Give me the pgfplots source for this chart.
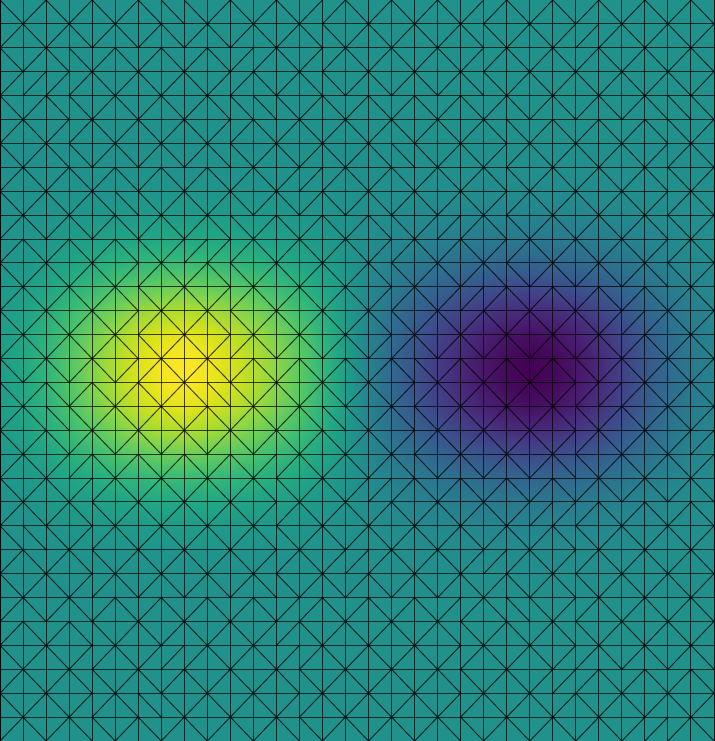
\documentclass[border=0pt]{standalone}
\usepackage{pgfplots}
\pgfplotsset{compat=1.18}
\definecolor{vmid}{rgb}{0.127568,0.566949,0.550556}
\begin{document}
\begin{tikzpicture}
\begin{axis}[
  scale only axis, width=7.14cm, height=7.41cm,
  xmin=0, xmax=31, ymin=0, ymax=31, y dir=reverse,
  axis on top,
  xtick={0,...,31}, ytick={0,...,31},
  xticklabels={}, yticklabels={},
  major tick length=0pt,
  grid=major,
  grid style={black, line width=0.28pt, opacity=0.72},
  axis line style={black, line width=0.28pt, opacity=0.72},
  axis background/.style={fill=vmid},
  colormap/viridis,
  point meta min=-1, point meta max=1,
]
\addplot[surf, shader=interp, mesh/cols=32, point meta=explicit] table[row sep=\\, x=x, y=y, meta=z] {
x y z\\
0 6 0\\1 6 0\\2 6 0\\3 6 0\\4 6 0\\5 6 0\\6 6 0\\7 6 0\\8 6 0\\9 6 0\\10 6 0\\11 6 0\\12 6 0\\13 6 0\\14 6 0\\15 6 0\\16 6 0\\17 6 0\\18 6 0\\19 6 0\\20 6 0\\21 6 0\\22 6 0\\23 6 0\\24 6 0\\25 6 0\\26 6 0\\27 6 0\\28 6 0\\29 6 0\\30 6 0\\31 6 0\\
0 7 0.002\\1 7 0.003\\2 7 0.005\\3 7 0.007\\4 7 0.009\\5 7 0.012\\6 7 0.013\\7 7 0.015\\8 7 0.015\\9 7 0.014\\10 7 0.013\\11 7 0.012\\12 7 0.010\\13 7 0.008\\14 7 0.005\\15 7 0.002\\16 7 -0.002\\17 7 -0.005\\18 7 -0.008\\19 7 -0.010\\20 7 -0.012\\21 7 -0.013\\22 7 -0.014\\23 7 -0.015\\24 7 -0.015\\25 7 -0.013\\26 7 -0.012\\27 7 -0.009\\28 7 -0.007\\29 7 -0.005\\30 7 -0.003\\31 7 -0.002\\
0 8 0.004\\1 8 0.008\\2 8 0.012\\3 8 0.018\\4 8 0.025\\5 8 0.031\\6 8 0.036\\7 8 0.039\\8 8 0.040\\9 8 0.038\\10 8 0.035\\11 8 0.031\\12 8 0.026\\13 8 0.020\\14 8 0.013\\15 8 0.005\\16 8 -0.005\\17 8 -0.013\\18 8 -0.020\\19 8 -0.026\\20 8 -0.031\\21 8 -0.035\\22 8 -0.038\\23 8 -0.040\\24 8 -0.039\\25 8 -0.036\\26 8 -0.031\\27 8 -0.025\\28 8 -0.018\\29 8 -0.012\\30 8 -0.008\\31 8 -0.004\\
0 9 0.010\\1 9 0.018\\2 9 0.029\\3 9 0.044\\4 9 0.059\\5 9 0.073\\6 9 0.085\\7 9 0.092\\8 9 0.095\\9 9 0.091\\10 9 0.084\\11 9 0.074\\12 9 0.062\\13 9 0.048\\14 9 0.031\\15 9 0.011\\16 9 -0.011\\17 9 -0.031\\18 9 -0.048\\19 9 -0.062\\20 9 -0.074\\21 9 -0.084\\22 9 -0.091\\23 9 -0.095\\24 9 -0.092\\25 9 -0.085\\26 9 -0.073\\27 9 -0.059\\28 9 -0.044\\29 9 -0.029\\30 9 -0.018\\31 9 -0.010\\
0 10 0.022\\1 10 0.038\\2 10 0.062\\3 10 0.092\\4 10 0.124\\5 10 0.154\\6 10 0.178\\7 10 0.194\\8 10 0.200\\9 10 0.192\\10 10 0.176\\11 10 0.156\\12 10 0.130\\13 10 0.100\\14 10 0.066\\15 10 0.024\\16 10 -0.024\\17 10 -0.066\\18 10 -0.100\\19 10 -0.130\\20 10 -0.156\\21 10 -0.176\\22 10 -0.192\\23 10 -0.200\\24 10 -0.194\\25 10 -0.178\\26 10 -0.154\\27 10 -0.124\\28 10 -0.092\\29 10 -0.062\\30 10 -0.038\\31 10 -0.022\\
0 11 0.040\\1 11 0.068\\2 11 0.112\\3 11 0.166\\4 11 0.223\\5 11 0.277\\6 11 0.320\\7 11 0.349\\8 11 0.360\\9 11 0.346\\10 11 0.317\\11 11 0.281\\12 11 0.234\\13 11 0.180\\14 11 0.119\\15 11 0.043\\16 11 -0.043\\17 11 -0.119\\18 11 -0.180\\19 11 -0.234\\20 11 -0.281\\21 11 -0.317\\22 11 -0.346\\23 11 -0.360\\24 11 -0.349\\25 11 -0.320\\26 11 -0.277\\27 11 -0.223\\28 11 -0.166\\29 11 -0.112\\30 11 -0.068\\31 11 -0.040\\
0 12 0.062\\1 12 0.106\\2 12 0.174\\3 12 0.258\\4 12 0.347\\5 12 0.431\\6 12 0.498\\7 12 0.543\\8 12 0.560\\9 12 0.538\\10 12 0.493\\11 12 0.437\\12 12 0.364\\13 12 0.280\\14 12 0.185\\15 12 0.067\\16 12 -0.067\\17 12 -0.185\\18 12 -0.280\\19 12 -0.364\\20 12 -0.437\\21 12 -0.493\\22 12 -0.538\\23 12 -0.560\\24 12 -0.543\\25 12 -0.498\\26 12 -0.431\\27 12 -0.347\\28 12 -0.258\\29 12 -0.174\\30 12 -0.106\\31 12 -0.062\\
0 13 0.085\\1 13 0.146\\2 13 0.239\\3 13 0.354\\4 13 0.477\\5 13 0.593\\6 13 0.685\\7 13 0.747\\8 13 0.770\\9 13 0.739\\10 13 0.678\\11 13 0.601\\12 13 0.501\\13 13 0.385\\14 13 0.254\\15 13 0.092\\16 13 -0.092\\17 13 -0.254\\18 13 -0.385\\19 13 -0.501\\20 13 -0.601\\21 13 -0.678\\22 13 -0.739\\23 13 -0.770\\24 13 -0.747\\25 13 -0.685\\26 13 -0.593\\27 13 -0.477\\28 13 -0.354\\29 13 -0.239\\30 13 -0.146\\31 13 -0.085\\
0 14 0.102\\1 14 0.177\\2 14 0.288\\3 14 0.428\\4 14 0.577\\5 14 0.716\\6 14 0.828\\7 14 0.902\\8 14 0.930\\9 14 0.893\\10 14 0.818\\11 14 0.725\\12 14 0.605\\13 14 0.465\\14 14 0.307\\15 14 0.112\\16 14 -0.112\\17 14 -0.307\\18 14 -0.465\\19 14 -0.605\\20 14 -0.725\\21 14 -0.818\\22 14 -0.893\\23 14 -0.930\\24 14 -0.902\\25 14 -0.828\\26 14 -0.716\\27 14 -0.577\\28 14 -0.428\\29 14 -0.288\\30 14 -0.177\\31 14 -0.102\\
0 15 0.110\\1 15 0.190\\2 15 0.310\\3 15 0.460\\4 15 0.620\\5 15 0.770\\6 15 0.890\\7 15 0.970\\8 15 1.000\\9 15 0.960\\10 15 0.880\\11 15 0.780\\12 15 0.650\\13 15 0.500\\14 15 0.330\\15 15 0.120\\16 15 -0.120\\17 15 -0.330\\18 15 -0.500\\19 15 -0.650\\20 15 -0.780\\21 15 -0.880\\22 15 -0.960\\23 15 -1.000\\24 15 -0.970\\25 15 -0.890\\26 15 -0.770\\27 15 -0.620\\28 15 -0.460\\29 15 -0.310\\30 15 -0.190\\31 15 -0.110\\
0 16 0.110\\1 16 0.190\\2 16 0.310\\3 16 0.460\\4 16 0.620\\5 16 0.770\\6 16 0.890\\7 16 0.970\\8 16 1.000\\9 16 0.960\\10 16 0.880\\11 16 0.780\\12 16 0.650\\13 16 0.500\\14 16 0.330\\15 16 0.120\\16 16 -0.120\\17 16 -0.330\\18 16 -0.500\\19 16 -0.650\\20 16 -0.780\\21 16 -0.880\\22 16 -0.960\\23 16 -1.000\\24 16 -0.970\\25 16 -0.890\\26 16 -0.770\\27 16 -0.620\\28 16 -0.460\\29 16 -0.310\\30 16 -0.190\\31 16 -0.110\\
0 17 0.102\\1 17 0.177\\2 17 0.288\\3 17 0.428\\4 17 0.577\\5 17 0.716\\6 17 0.828\\7 17 0.902\\8 17 0.930\\9 17 0.893\\10 17 0.818\\11 17 0.725\\12 17 0.605\\13 17 0.465\\14 17 0.307\\15 17 0.112\\16 17 -0.112\\17 17 -0.307\\18 17 -0.465\\19 17 -0.605\\20 17 -0.725\\21 17 -0.818\\22 17 -0.893\\23 17 -0.930\\24 17 -0.902\\25 17 -0.828\\26 17 -0.716\\27 17 -0.577\\28 17 -0.428\\29 17 -0.288\\30 17 -0.177\\31 17 -0.102\\
0 18 0.085\\1 18 0.146\\2 18 0.239\\3 18 0.354\\4 18 0.477\\5 18 0.593\\6 18 0.685\\7 18 0.747\\8 18 0.770\\9 18 0.739\\10 18 0.678\\11 18 0.601\\12 18 0.501\\13 18 0.385\\14 18 0.254\\15 18 0.092\\16 18 -0.092\\17 18 -0.254\\18 18 -0.385\\19 18 -0.501\\20 18 -0.601\\21 18 -0.678\\22 18 -0.739\\23 18 -0.770\\24 18 -0.747\\25 18 -0.685\\26 18 -0.593\\27 18 -0.477\\28 18 -0.354\\29 18 -0.239\\30 18 -0.146\\31 18 -0.085\\
0 19 0.062\\1 19 0.106\\2 19 0.174\\3 19 0.258\\4 19 0.347\\5 19 0.431\\6 19 0.498\\7 19 0.543\\8 19 0.560\\9 19 0.538\\10 19 0.493\\11 19 0.437\\12 19 0.364\\13 19 0.280\\14 19 0.185\\15 19 0.067\\16 19 -0.067\\17 19 -0.185\\18 19 -0.280\\19 19 -0.364\\20 19 -0.437\\21 19 -0.493\\22 19 -0.538\\23 19 -0.560\\24 19 -0.543\\25 19 -0.498\\26 19 -0.431\\27 19 -0.347\\28 19 -0.258\\29 19 -0.174\\30 19 -0.106\\31 19 -0.062\\
0 20 0.040\\1 20 0.068\\2 20 0.112\\3 20 0.166\\4 20 0.223\\5 20 0.277\\6 20 0.320\\7 20 0.349\\8 20 0.360\\9 20 0.346\\10 20 0.317\\11 20 0.281\\12 20 0.234\\13 20 0.180\\14 20 0.119\\15 20 0.043\\16 20 -0.043\\17 20 -0.119\\18 20 -0.180\\19 20 -0.234\\20 20 -0.281\\21 20 -0.317\\22 20 -0.346\\23 20 -0.360\\24 20 -0.349\\25 20 -0.320\\26 20 -0.277\\27 20 -0.223\\28 20 -0.166\\29 20 -0.112\\30 20 -0.068\\31 20 -0.040\\
0 21 0.022\\1 21 0.038\\2 21 0.062\\3 21 0.092\\4 21 0.124\\5 21 0.154\\6 21 0.178\\7 21 0.194\\8 21 0.200\\9 21 0.192\\10 21 0.176\\11 21 0.156\\12 21 0.130\\13 21 0.100\\14 21 0.066\\15 21 0.024\\16 21 -0.024\\17 21 -0.066\\18 21 -0.100\\19 21 -0.130\\20 21 -0.156\\21 21 -0.176\\22 21 -0.192\\23 21 -0.200\\24 21 -0.194\\25 21 -0.178\\26 21 -0.154\\27 21 -0.124\\28 21 -0.092\\29 21 -0.062\\30 21 -0.038\\31 21 -0.022\\
0 22 0.010\\1 22 0.018\\2 22 0.029\\3 22 0.044\\4 22 0.059\\5 22 0.073\\6 22 0.085\\7 22 0.092\\8 22 0.095\\9 22 0.091\\10 22 0.084\\11 22 0.074\\12 22 0.062\\13 22 0.048\\14 22 0.031\\15 22 0.011\\16 22 -0.011\\17 22 -0.031\\18 22 -0.048\\19 22 -0.062\\20 22 -0.074\\21 22 -0.084\\22 22 -0.091\\23 22 -0.095\\24 22 -0.092\\25 22 -0.085\\26 22 -0.073\\27 22 -0.059\\28 22 -0.044\\29 22 -0.029\\30 22 -0.018\\31 22 -0.010\\
0 23 0.004\\1 23 0.008\\2 23 0.012\\3 23 0.018\\4 23 0.025\\5 23 0.031\\6 23 0.036\\7 23 0.039\\8 23 0.040\\9 23 0.038\\10 23 0.035\\11 23 0.031\\12 23 0.026\\13 23 0.020\\14 23 0.013\\15 23 0.005\\16 23 -0.005\\17 23 -0.013\\18 23 -0.020\\19 23 -0.026\\20 23 -0.031\\21 23 -0.035\\22 23 -0.038\\23 23 -0.040\\24 23 -0.039\\25 23 -0.036\\26 23 -0.031\\27 23 -0.025\\28 23 -0.018\\29 23 -0.012\\30 23 -0.008\\31 23 -0.004\\
0 24 0.002\\1 24 0.003\\2 24 0.005\\3 24 0.007\\4 24 0.009\\5 24 0.012\\6 24 0.013\\7 24 0.015\\8 24 0.015\\9 24 0.014\\10 24 0.013\\11 24 0.012\\12 24 0.010\\13 24 0.008\\14 24 0.005\\15 24 0.002\\16 24 -0.002\\17 24 -0.005\\18 24 -0.008\\19 24 -0.010\\20 24 -0.012\\21 24 -0.013\\22 24 -0.014\\23 24 -0.015\\24 24 -0.015\\25 24 -0.013\\26 24 -0.012\\27 24 -0.009\\28 24 -0.007\\29 24 -0.005\\30 24 -0.003\\31 24 -0.002\\
0 25 0\\1 25 0\\2 25 0\\3 25 0\\4 25 0\\5 25 0\\6 25 0\\7 25 0\\8 25 0\\9 25 0\\10 25 0\\11 25 0\\12 25 0\\13 25 0\\14 25 0\\15 25 0\\16 25 0\\17 25 0\\18 25 0\\19 25 0\\20 25 0\\21 25 0\\22 25 0\\23 25 0\\24 25 0\\25 25 0\\26 25 0\\27 25 0\\28 25 0\\29 25 0\\30 25 0\\31 25 0\\
};
% diagonals from upper left to lower right
\addplot[black, line width=0.28pt, opacity=0.72, mark=none, -, quiver={u=1, v=1}] coordinates {
(0,0)(2,0)(4,0)(6,0)(7,0)(8,0)(10,0)(12,0)(15,0)(17,0)(19,0)(22,0)(24,0)(26,0)(28,0)(30,0)
(1,1)(3,1)(5,1)(7,1)(9,1)(11,1)(13,1)(14,1)(16,1)(18,1)(20,1)(21,1)(23,1)(27,1)(29,1)
(0,2)(2,2)(3,2)(5,2)(7,2)(9,2)(12,2)(15,2)(17,2)(19,2)(22,2)(24,2)(26,2)(28,2)(30,2)
(4,3)(6,3)(8,3)(11,3)(13,3)(14,3)(16,3)(18,3)(20,3)(21,3)(23,3)(25,3)(27,3)(29,3)
(0,4)(2,4)(3,4)(5,4)(7,4)(9,4)(10,4)(11,4)(12,4)(14,4)(16,4)(18,4)(20,4)(22,4)(24,4)(26,4)(28,4)(29,4)(30,4)
(1,5)(4,5)(6,5)(8,5)(11,5)(13,5)(15,5)(17,5)(19,5)(21,5)(22,5)(24,5)(26,5)(28,5)(29,5)
(0,6)(2,6)(3,6)(5,6)(7,6)(9,6)(10,6)(12,6)(14,6)(16,6)(17,6)(18,6)(20,6)(23,6)(25,6)(27,6)(30,6)
(1,7)(3,7)(5,7)(7,7)(9,7)(11,7)(15,7)(17,7)(19,7)(21,7)(22,7)(24,7)(26,7)(28,7)(29,7)
(0,8)(2,8)(4,8)(5,8)(6,8)(8,8)(10,8)(12,8)(14,8)(16,8)(18,8)(20,8)(23,8)(25,8)(27,8)(30,8)
(1,9)(3,9)(5,9)(7,9)(9,9)(10,9)(12,9)(14,9)(16,9)(17,9)(21,9)(22,9)(24,9)(26,9)(28,9)(29,9)
(1,10)(3,10)(5,10)(6,10)(11,10)(13,10)(15,10)(18,10)(20,10)(23,10)(25,10)(27,10)(30,10)
(0,11)(2,11)(4,11)(7,11)(9,11)(10,11)(12,11)(14,11)(16,11)(17,11)(19,11)(21,11)(22,11)(24,11)(26,11)(28,11)(29,11)
(1,12)(3,12)(5,12)(6,12)(8,12)(11,12)(13,12)(15,12)(18,12)(22,12)(24,12)(26,12)(28,12)(30,12)
(0,13)(2,13)(4,13)(7,13)(9,13)(10,13)(12,13)(14,13)(16,13)(17,13)(19,13)(21,13)(23,13)(25,13)(29,13)
(1,14)(3,14)(5,14)(6,14)(8,14)(11,14)(13,14)(15,14)(18,14)(20,14)(22,14)(24,14)(26,14)(28,14)(30,14)
(0,15)(2,15)(4,15)(7,15)(9,15)(11,15)(13,15)(15,15)(17,15)(18,15)(20,15)(22,15)(24,15)(25,15)(27,15)(29,15)
(0,16)(2,16)(4,16)(6,16)(8,16)(9,16)(10,16)(12,16)(14,16)(16,16)(19,16)(21,16)(23,16)(28,16)(30,16)
(1,17)(2,17)(3,17)(5,17)(7,17)(9,17)(11,17)(13,17)(14,17)(15,17)(17,17)(18,17)(20,17)(22,17)(24,17)(25,17)(27,17)(29,17)
(0,18)(2,18)(4,18)(6,18)(8,18)(10,18)(12,18)(14,18)(16,18)(19,18)(21,18)(23,18)(26,18)(28,18)
(1,19)(4,19)(6,19)(8,19)(10,19)(13,19)(15,19)(17,19)(18,19)(20,19)(22,19)(24,19)(25,19)(27,19)(29,19)
(0,20)(2,20)(5,20)(7,20)(9,20)(11,20)(12,20)(14,20)(18,20)(20,20)(22,20)(24,20)(26,20)(28,20)(30,20)
(1,21)(3,21)(4,21)(6,21)(8,21)(10,21)(13,21)(15,21)(17,21)(19,21)(21,21)(26,21)(28,21)(30,21)
(0,22)(1,22)(2,22)(5,22)(7,22)(9,22)(11,22)(12,22)(14,22)(16,22)(18,22)(20,22)(22,22)(24,22)(25,22)(27,22)(29,22)
(1,23)(3,23)(4,23)(6,23)(8,23)(10,23)(13,23)(17,23)(19,23)(23,23)(26,23)(28,23)(30,23)
(0,24)(2,24)(5,24)(7,24)(9,24)(11,24)(12,24)(14,24)(16,24)(18,24)(20,24)(22,24)(24,24)(25,24)(27,24)(29,24)
(1,25)(3,25)(5,25)(7,25)(9,25)(11,25)(14,25)(16,25)(18,25)(21,25)(22,25)(23,25)(26,25)(28,25)(30,25)
(1,26)(3,26)(4,26)(6,26)(8,26)(10,26)(13,26)(15,26)(17,26)(19,26)(20,26)(22,26)(24,26)(25,26)(27,26)(29,26)
(0,27)(2,27)(5,27)(9,27)(11,27)(14,27)(16,27)(18,27)(21,27)(23,27)(26,27)(28,27)(30,27)
(1,28)(3,28)(4,28)(6,28)(8,28)(10,28)(12,28)(13,28)(15,28)(17,28)(19,28)(20,28)(22,28)(26,28)(28,28)(30,28)
(0,29)(2,29)(5,29)(6,29)(7,29)(9,29)(11,29)(14,29)(16,29)(18,29)(21,29)(23,29)(25,29)(27,29)(29,29)
(1,30)(3,30)(4,30)(6,30)(8,30)(10,30)(12,30)(13,30)(15,30)(17,30)(19,30)(20,30)(22,30)(24,30)(26,30)(30,30)
};
% diagonals from lower left to upper right
\addplot[black, line width=0.28pt, opacity=0.72, mark=none, -, quiver={u=1, v=-1}] coordinates {
(1,1)(3,1)(5,1)(9,1)(11,1)(13,1)(14,1)(16,1)(18,1)(20,1)(21,1)(23,1)(25,1)(27,1)(29,1)
(0,2)(2,2)(4,2)(6,2)(8,2)(10,2)(12,2)(15,2)(17,2)(19,2)(22,2)(24,2)(25,2)(26,2)(28,2)(30,2)
(1,3)(4,3)(6,3)(8,3)(10,3)(11,3)(13,3)(14,3)(16,3)(18,3)(20,3)(21,3)(23,3)(25,3)(27,3)(29,3)
(0,4)(1,4)(2,4)(3,4)(5,4)(7,4)(9,4)(10,4)(12,4)(15,4)(17,4)(19,4)(22,4)(24,4)(26,4)(28,4)(30,4)
(1,5)(4,5)(6,5)(8,5)(13,5)(15,5)(17,5)(19,5)(21,5)(23,5)(25,5)(27,5)
(0,6)(2,6)(3,6)(5,6)(7,6)(9,6)(10,6)(12,6)(14,6)(16,6)(18,6)(20,6)(23,6)(25,6)(27,6)(30,6)
(1,7)(4,7)(6,7)(8,7)(11,7)(13,7)(15,7)(19,7)(21,7)(22,7)(24,7)(26,7)(28,7)(29,7)
(0,8)(2,8)(4,8)(6,8)(8,8)(10,8)(12,8)(13,8)(14,8)(16,8)(18,8)(20,8)(23,8)(25,8)(27,8)(30,8)
(1,9)(3,9)(7,9)(9,9)(11,9)(13,9)(15,9)(17,9)(19,9)(21,9)(22,9)(24,9)(26,9)(28,9)(29,9)
(0,10)(2,10)(4,10)(6,10)(8,10)(11,10)(13,10)(15,10)(18,10)(19,10)(20,10)(23,10)(25,10)(27,10)(30,10)
(0,11)(2,11)(4,11)(7,11)(8,11)(9,11)(10,11)(12,11)(14,11)(16,11)(17,11)(19,11)(21,11)(22,11)(24,11)(26,11)(28,11)(29,11)
(1,12)(3,12)(5,12)(6,12)(8,12)(11,12)(13,12)(15,12)(18,12)(20,12)(23,12)(25,12)(27,12)(30,12)
(0,13)(2,13)(4,13)(7,13)(9,13)(10,13)(12,13)(14,13)(16,13)(17,13)(19,13)(20,13)(21,13)(23,13)(25,13)(27,13)(29,13)
(1,14)(3,14)(5,14)(6,14)(8,14)(11,14)(13,14)(15,14)(18,14)(20,14)(22,14)(24,14)(26,14)(27,14)(28,14)(30,14)
(0,15)(2,15)(4,15)(7,15)(9,15)(10,15)(12,15)(14,15)(16,15)(17,15)(19,15)(21,15)(23,15)(25,15)(27,15)(29,15)
(1,16)(3,16)(5,16)(6,16)(8,16)(10,16)(12,16)(14,16)(16,16)(19,16)(21,16)(23,16)(26,16)(28,16)(30,16)
(1,17)(3,17)(5,17)(7,17)(11,17)(13,17)(15,17)(17,17)(18,17)(20,17)(22,17)(24,17)(25,17)(26,17)(27,17)(29,17)
(0,18)(4,18)(6,18)(8,18)(10,18)(12,18)(16,18)(19,18)(21,18)(23,18)(26,18)(28,18)(30,18)
(1,19)(3,19)(5,19)(7,19)(9,19)(11,19)(13,19)(15,19)(17,19)(18,19)(20,19)(22,19)(24,19)(25,19)(27,19)(29,19)(30,19)
(0,20)(2,20)(3,20)(5,20)(7,20)(9,20)(11,20)(12,20)(14,20)(16,20)(19,20)(21,20)(23,20)(26,20)(28,20)(30,20)
(1,21)(3,21)(4,21)(6,21)(8,21)(10,21)(13,21)(15,21)(16,21)(17,21)(19,21)(21,21)(23,21)(25,21)(27,21)(29,21)
(0,22)(2,22)(5,22)(7,22)(9,22)(11,22)(12,22)(14,22)(16,22)(18,22)(20,22)(22,22)(23,22)(24,22)(25,22)(27,22)(29,22)
(3,23)(4,23)(6,23)(8,23)(10,23)(13,23)(15,23)(17,23)(19,23)(21,23)(23,23)(26,23)(28,23)(30,23)
(0,24)(2,24)(5,24)(7,24)(9,24)(11,24)(12,24)(14,24)(15,24)(16,24)(18,24)(20,24)(21,24)(22,24)(24,24)(25,24)(27,24)(29,24)
(1,25)(3,25)(4,25)(6,25)(8,25)(10,25)(13,25)(15,25)(17,25)(19,25)(21,25)(23,25)(26,25)(28,25)(30,25)
(0,26)(2,26)(4,26)(6,26)(8,26)(10,26)(12,26)(13,26)(15,26)(17,26)(19,26)(20,26)(24,26)(25,26)(27,26)(29,26)
(0,27)(2,27)(5,27)(7,27)(9,27)(11,27)(12,27)(14,27)(16,27)(18,27)(21,27)(23,27)(26,27)(28,27)(30,27)
(1,28)(3,28)(4,28)(6,28)(7,28)(8,28)(10,28)(12,28)(13,28)(15,28)(17,28)(19,28)(20,28)(22,28)(24,28)(25,28)(27,28)(29,28)
(0,29)(2,29)(5,29)(7,29)(9,29)(11,29)(14,29)(16,29)(18,29)(21,29)(23,29)(24,29)(25,29)(27,29)(29,29)
(1,30)(3,30)(4,30)(8,30)(10,30)(12,30)(13,30)(15,30)(17,30)(19,30)(20,30)(22,30)(24,30)(26,30)(28,30)(30,30)
(0,31)(2,31)(5,31)(7,31)(9,31)(11,31)(14,31)(16,31)(18,31)(21,31)(23,31)(25,31)(27,31)(28,31)(29,31)
};
\end{axis}
\pgfresetboundingbox
\useasboundingbox (current axis.south west) rectangle (current axis.north east);
\end{tikzpicture}
\end{document}
